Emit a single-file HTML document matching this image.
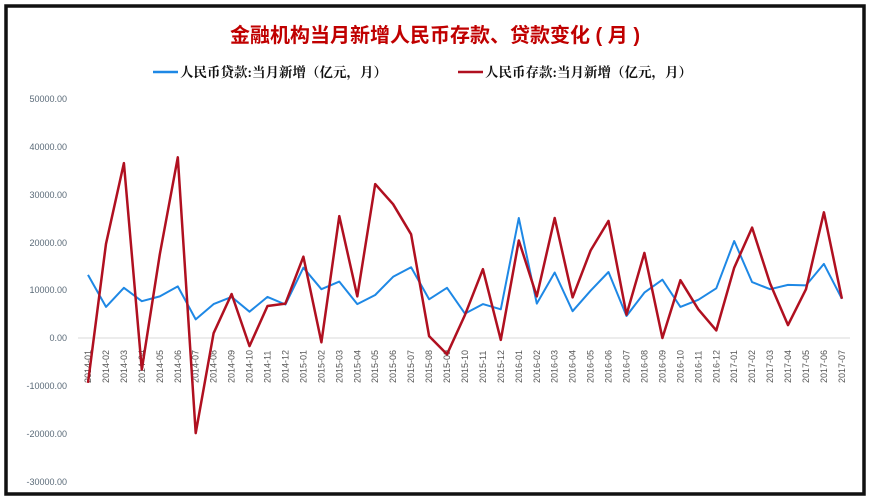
<!DOCTYPE html>
<html><head><meta charset="utf-8"><style>
html,body{margin:0;padding:0;background:#fff;}
svg{display:block;}
</style></head><body>
<svg width="870" height="502" viewBox="0 0 870 502" xmlns="http://www.w3.org/2000/svg">
<rect x="0" y="0" width="870" height="502" fill="#fff"/>
<rect x="6" y="6" width="858" height="488" fill="#fff" stroke="#111" stroke-width="3.5"/>
<text x="435" y="42" text-anchor="middle" font-family="'Liberation Sans','Noto Sans CJK SC',sans-serif" font-size="20" font-weight="bold" fill="#c00000">金融机构当月新增人民币存款、贷款变化 ( 月 )</text>
<line x1="153" y1="72" x2="178" y2="72" stroke="#1e88e5" stroke-width="2.5"/>
<text x="180" y="77" font-family="'Liberation Serif','Noto Serif CJK SC',serif" font-size="13.5" font-weight="bold" fill="#111">人民币贷款:当月新增（亿元，月）</text>
<line x1="458" y1="72" x2="483" y2="72" stroke="#b01020" stroke-width="2.5"/>
<text x="485" y="77" font-family="'Liberation Serif','Noto Serif CJK SC',serif" font-size="13.5" font-weight="bold" fill="#111">人民币存款:当月新增（亿元，月）</text>
<g font-family="'Liberation Sans',sans-serif" font-size="9" fill="#5a6a78" text-anchor="end">
<text x="67" y="102">50000.00</text>
<text x="67" y="150">40000.00</text>
<text x="67" y="198">30000.00</text>
<text x="67" y="246">20000.00</text>
<text x="67" y="293">10000.00</text>
<text x="67" y="341">0.00</text>
<text x="67" y="389">-10000.00</text>
<text x="67" y="437">-20000.00</text>
<text x="67" y="485">-30000.00</text>
</g>
<line x1="78" y1="338" x2="850" y2="338" stroke="#d8d8d8" stroke-width="1"/>
<g font-family="'Liberation Sans',sans-serif" font-size="9" fill="#555">
<text transform="translate(91.0,383) rotate(-90)">2014-01</text>
<text transform="translate(109.0,383) rotate(-90)">2014-02</text>
<text transform="translate(126.9,383) rotate(-90)">2014-03</text>
<text transform="translate(144.9,383) rotate(-90)">2014-04</text>
<text transform="translate(162.8,383) rotate(-90)">2014-05</text>
<text transform="translate(180.8,383) rotate(-90)">2014-06</text>
<text transform="translate(198.7,383) rotate(-90)">2014-07</text>
<text transform="translate(216.7,383) rotate(-90)">2014-08</text>
<text transform="translate(234.6,383) rotate(-90)">2014-09</text>
<text transform="translate(252.6,383) rotate(-90)">2014-10</text>
<text transform="translate(270.5,383) rotate(-90)">2014-11</text>
<text transform="translate(288.5,383) rotate(-90)">2014-12</text>
<text transform="translate(306.4,383) rotate(-90)">2015-01</text>
<text transform="translate(324.4,383) rotate(-90)">2015-02</text>
<text transform="translate(342.3,383) rotate(-90)">2015-03</text>
<text transform="translate(360.3,383) rotate(-90)">2015-04</text>
<text transform="translate(378.2,383) rotate(-90)">2015-05</text>
<text transform="translate(396.2,383) rotate(-90)">2015-06</text>
<text transform="translate(414.1,383) rotate(-90)">2015-07</text>
<text transform="translate(432.1,383) rotate(-90)">2015-08</text>
<text transform="translate(450.0,383) rotate(-90)">2015-09</text>
<text transform="translate(468.0,383) rotate(-90)">2015-10</text>
<text transform="translate(485.9,383) rotate(-90)">2015-11</text>
<text transform="translate(503.9,383) rotate(-90)">2015-12</text>
<text transform="translate(521.8,383) rotate(-90)">2016-01</text>
<text transform="translate(539.8,383) rotate(-90)">2016-02</text>
<text transform="translate(557.7,383) rotate(-90)">2016-03</text>
<text transform="translate(575.7,383) rotate(-90)">2016-04</text>
<text transform="translate(593.6,383) rotate(-90)">2016-05</text>
<text transform="translate(611.6,383) rotate(-90)">2016-06</text>
<text transform="translate(629.5,383) rotate(-90)">2016-07</text>
<text transform="translate(647.5,383) rotate(-90)">2016-08</text>
<text transform="translate(665.4,383) rotate(-90)">2016-09</text>
<text transform="translate(683.4,383) rotate(-90)">2016-10</text>
<text transform="translate(701.3,383) rotate(-90)">2016-11</text>
<text transform="translate(719.3,383) rotate(-90)">2016-12</text>
<text transform="translate(737.2,383) rotate(-90)">2017-01</text>
<text transform="translate(755.2,383) rotate(-90)">2017-02</text>
<text transform="translate(773.1,383) rotate(-90)">2017-03</text>
<text transform="translate(791.1,383) rotate(-90)">2017-04</text>
<text transform="translate(809.0,383) rotate(-90)">2017-05</text>
<text transform="translate(827.0,383) rotate(-90)">2017-06</text>
<text transform="translate(844.9,383) rotate(-90)">2017-07</text>
</g>
<polyline id="blue" fill="none" stroke="#1e88e5" stroke-width="2" stroke-linejoin="round"/>
<polyline id="red" fill="none" stroke="#b01020" stroke-width="2.5" stroke-linejoin="round"/>
<script>
var b=[13200,6500,10500,7700,8700,10800,3900,7100,8600,5500,8600,7000,14700,10200,11800,7100,9000,12800,14800,8100,10500,5100,7100,6000,25100,7200,13700,5600,9900,13800,4600,9500,12200,6500,8000,10400,20300,11700,10200,11100,11000,15500,8200];
var r=[-9400,19700,36600,-6600,17500,37800,-19900,1000,9200,-1700,6700,7200,17000,-900,25500,8700,32200,28000,21700,400,-3400,4800,14400,-400,20400,8700,25100,8500,18300,24500,4900,17800,0,12100,6000,1600,14700,23100,11400,2700,10200,26300,8200];
function X(i){return 88+i*17.95;}
function Y(v){return 338-v*0.00478;}
function pts(a){return a.map(function(v,i){return X(i).toFixed(1)+','+Y(v).toFixed(1)}).join(' ');}
document.getElementById('blue').setAttribute('points',pts(b));
document.getElementById('red').setAttribute('points',pts(r));
</script>
</svg>
</body></html>
